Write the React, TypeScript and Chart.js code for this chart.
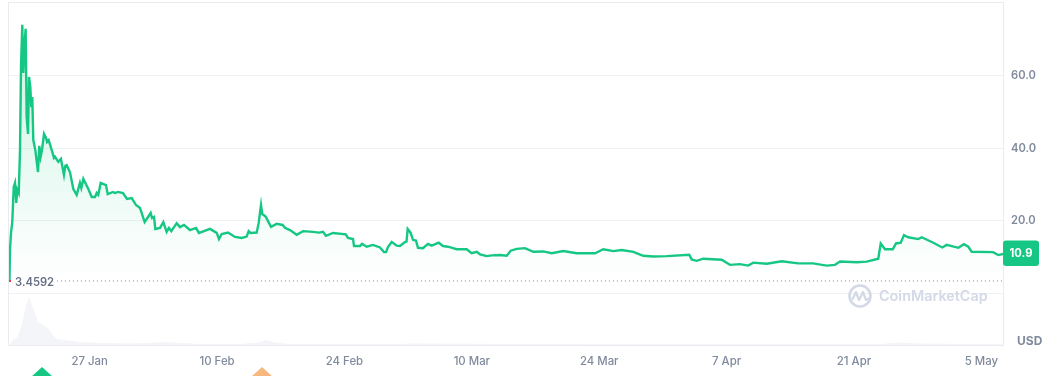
import React, { useEffect, useRef } from "react";
import { Chart, registerables } from "chart.js";

Chart.register(...registerables);

// Days counted from 18 Jan
const priceDays = [0.18,0.24,0.35,0.49,0.65,0.79,0.93,1.04,1.2,1.34,1.45,1.59,1.7,1.85,1.96,2.07,2.22,2.33,2.47,2.58,2.69,2.8,3.02,3.32,3.46,3.61,3.76,3.98,4.2,4.31,4.49,4.82,5.07,5.18,5.55,5.84,6.17,6.32,6.47,6.83,7.2,7.57,7.93,8.08,8.3,8.85,9.22,9.58,9.77,9.94,10.21,10.79,10.98,11.56,11.78,12.11,12.66,13.1,13.62,14.09,14.53,15.04,15.41,15.7,15.85,16.07,16.21,16.73,17.09,17.46,17.71,17.97,18.56,18.92,19.36,20.02,20.68,21.01,21.12,22.22,22.96,23.21,23.51,24.2,24.97,25.7,26.25,26.47,26.67,27.35,27.57,27.83,27.97,28.34,28.93,29.55,30.21,30.46,31.01,31.75,32.44,33.54,34.2,34.64,34.97,35.74,37.14,37.39,37.94,38.05,38.71,38.93,39.44,40.14,40.9,41.35,41.57,41.78,42.19,42.74,43.1,43.65,43.82,43.95,44.28,44.53,44.86,45.08,45.63,46.18,46.59,47.36,47.83,48.38,48.93,49.34,50.43,50.98,51.53,51.9,52.63,53.2,54.1,54.83,55.27,55.93,56.84,57.76,58.85,59.78,61.05,62.52,64.54,65.45,66.55,67.47,68.75,69.84,70.94,72.42,74.9,75.16,75.71,76.44,78.46,79.37,80.47,81.38,81.93,83.41,85.06,86.88,88.5,90.0,90.91,91.47,93.3,94.4,95.67,95.94,96.41,97.26,97.62,98.14,98.5,98.97,100.07,100.45,101.72,102.71,103.19,104.47,105.09,105.57,105.94,108.28,108.86,109.38];
const prices = [3.46,12.0,16.7,19.7,29.4,30.5,25.0,28.6,27.7,39.6,62.5,74.1,60.8,69.1,73.0,48.7,44.0,59.7,57.0,51.4,54.2,42.3,39.6,33.5,40.7,37.7,39.6,44.0,42.9,41.8,42.3,39.6,37.4,37.7,36.3,37.1,32.7,35.2,35.4,33.5,28.8,27.2,30.5,29.1,31.6,28.8,26.6,26.6,27.7,27.2,30.5,29.9,27.4,28.0,27.7,28.0,27.7,26.1,26.3,24.4,23.6,19.7,21.1,22.2,20.8,21.1,17.8,18.1,19.7,17.0,18.1,17.2,19.4,18.3,18.9,17.5,18.1,16.7,16.8,17.8,16.7,15.0,16.4,16.8,15.6,15.3,15.7,17.2,16.7,16.8,19.4,24.4,21.9,21.2,18.4,19.2,18.9,18.1,17.5,16.2,17.2,17.0,16.8,17.0,15.9,16.7,16.3,15.3,15.0,13.1,13.1,13.7,12.9,13.4,12.7,11.4,11.4,12.8,14.2,13.2,13.1,14.2,14.3,17.8,16.7,14.8,14.6,12.6,12.5,13.7,13.2,14.0,13.1,12.9,12.5,12.2,12.2,11.1,11.5,10.8,10.3,10.5,10.6,10.4,11.8,12.3,12.5,11.5,11.6,11.1,11.7,11.1,11.1,12.2,11.7,12.0,11.5,10.4,10.2,10.3,10.7,9.4,9.0,9.6,9.3,7.9,8.1,7.7,8.5,8.2,8.9,8.3,8.3,7.7,7.9,8.8,8.6,8.8,9.6,13.8,12.2,12.2,13.8,14.0,16.1,15.5,15.0,15.5,14.0,12.7,13.4,12.6,13.6,12.9,11.5,11.4,10.6,10.9];

const volumeDays = [0.24,0.57,1.0,1.56,2.0,2.33,2.77,3.32,3.87,4.42,4.97,5.4,6.28,7.93,10.13,13.43,15.63,17.27,21.12,25.5,27.5,28.3,29.4,31,43.1,44.2,65,95.9,97,98.6,99.7,109.38];
const volumes = [0,12,14,41,82,98,76,47,41,35,20,12,10,6,4,3,4,6,2,2,5,10,5,2,2,3,1.5,1.5,4,5,3,1.5];

const lowDays = [5.4, 109.38];
const lowPrice = 3.4592;
const lastPrice = 10.9;

const axisDayMin = 0.13;
const axisDayMax = 109.38;

const tickDays = [9, 23, 37, 51, 65, 79, 93, 107];
const tickLabels = ["27 Jan", "10 Feb", "24 Feb", "10 Mar", "24 Mar", "7 Apr", "21 Apr", "5 May"];
const priceTicks = [0, 20, 40, 60];
const markerDays = [3.76, 27.94];
const markerColors = ["#16c784", "#f6b87e"];

const GREEN = "#16c784";
const TICK = "#808a9d";
const FONT = "Inter, 'Noto Sans', sans-serif";

const decorations = {
  id: "decorations",
  afterDatasetsDraw(chart: any) {
    const { ctx, chartArea: a, scales } = chart;
    const x = scales.x;
    const y = scales.y;
    ctx.save();
    // frame
    ctx.strokeStyle = "#e8ebef";
    ctx.lineWidth = 1;
    ctx.strokeRect(a.left - 0.5, a.top - 0.5, a.right - a.left + 0.5 + 0.5, a.bottom - a.top + 0.5 + 0.5);

    // low label
    const lowY = y.getPixelForValue(lowPrice);
    ctx.fillStyle = "#fff";
    ctx.fillRect(a.left + 3, lowY - 8, 45, 18);
    ctx.fillStyle = "#687284";
    ctx.font = `600 11.2px ${FONT}`;
    ctx.textAlign = "left";
    ctx.textBaseline = "middle";
    ctx.fillText(lowPrice.toFixed(4), a.left + 6, lowY + 1.5);

    // low start tick
    ctx.fillStyle = "#ea3943";
    ctx.fillRect(a.left, lowY - 1, 2, 2);

    // last price tag
    const tagY = y.getPixelForValue(lastPrice);
    ctx.fillStyle = GREEN;
    ctx.beginPath();
    ctx.roundRect(a.right, tagY - 13.5, 36, 25.5, 3);
    ctx.fill();
    ctx.fillStyle = "#fff";
    ctx.font = `700 11.2px ${FONT}`;
    ctx.textAlign = "center";
    ctx.fillText(lastPrice.toFixed(1), a.right + 18, tagY);

    // USD
    ctx.fillStyle = "#808a9d";
    ctx.font = `700 12px ${FONT}`;
    ctx.textAlign = "left";
    ctx.fillText("USD", 1017, 341.5);

    // watermark
    const cx = 860;
    const cy = 296;
    ctx.strokeStyle = "#d3d9e6";
    ctx.lineWidth = 2.6;
    ctx.beginPath();
    ctx.arc(cx, cy, 10.5, 0, Math.PI * 2);
    ctx.stroke();
    ctx.lineWidth = 2.2;
    ctx.lineJoin = "round";
    ctx.beginPath();
    ctx.moveTo(cx - 8, cy + 4);
    ctx.lineTo(cx - 4, cy - 4);
    ctx.lineTo(cx - 1, cy + 4);
    ctx.lineTo(cx + 3, cy - 4);
    ctx.lineTo(cx + 6, cy + 4);
    ctx.lineTo(cx + 10, cy + 2);
    ctx.stroke();
    ctx.fillStyle = "#d3d9e6";
    ctx.font = `600 14.4px ${FONT}`;
    ctx.textAlign = "left";
    ctx.fillText("CoinMarketCap", 879, 297);

    // event markers cut off by the canvas edge
    markerDays.forEach((d, i) => {
      const mx = x.getPixelForValue(d);
      ctx.fillStyle = markerColors[i];
      ctx.beginPath();
      ctx.moveTo(mx, 367);
      ctx.lineTo(mx + 11, 377);
      ctx.lineTo(mx - 11, 377);
      ctx.closePath();
      ctx.fill();
    });
    ctx.restore();
  },
};

export default function App() {
  const ref = useRef<HTMLCanvasElement | null>(null);

  useEffect(() => {
    if (!ref.current) return;
    const chart = new Chart(ref.current, {
      type: "line",
      plugins: [decorations],
      data: {
        datasets: [
          {
            label: "Price",
            data: priceDays.map((d, i) => ({ x: d, y: prices[i] })),
            yAxisID: "y",
            borderColor: GREEN,
            borderWidth: 2.4,
            pointRadius: 0,
            tension: 0,
            fill: { value: lowPrice },
            backgroundColor: (c: any) => {
              const a = c.chart.chartArea;
              if (!a) return "rgba(22,199,132,0.1)";
              const g = c.chart.ctx.createLinearGradient(0, 25, 0, 281);
              g.addColorStop(0, "rgba(22,199,132,0.22)");
              g.addColorStop(1, "rgba(22,199,132,0)");
              return g;
            },
            order: 1,
          },
          {
            label: "Low",
            data: lowDays.map((d) => ({ x: d, y: lowPrice })),
            yAxisID: "y",
            borderColor: "#808a9d",
            borderWidth: 1,
            borderDash: [1, 3],
            pointRadius: 0,
            fill: false,
            order: 2,
          },
          {
            label: "Volume",
            data: volumeDays.map((d, i) => ({ x: d, y: volumes[i] })),
            yAxisID: "yVol",
            borderWidth: 0,
            pointRadius: 0,
            tension: 0,
            fill: "origin",
            backgroundColor: "#f3f5f8",
            order: 3,
          },
        ],
      },
      options: {
        responsive: false,
        animation: false,
        parsing: { xAxisKey: "x", yAxisKey: "y" } as any,
        layout: { autoPadding: false, padding: { left: 9, top: 3, right: 0, bottom: 0 } },
        plugins: { legend: { display: false }, tooltip: { enabled: false } },
        scales: {
          x: {
            type: "linear",
            min: axisDayMin,
            max: axisDayMax,
            border: { display: false },
            grid: { display: false },
            afterFit: (s: any) => {
              s.height = 31;
              s.paddingLeft = 0;
              s.paddingRight = 0;
              s.paddingTop = 0;
              s.paddingBottom = 0;
            },
            afterBuildTicks: (s: any) => {
              s.ticks = tickDays.map((v) => ({ value: v }));
            },
            ticks: {
              autoSkip: false,
              maxRotation: 0,
              padding: 2,
              color: TICK,
              font: { family: FONT, size: 11.4, weight: 500 },
              callback: (v: any) => tickLabels[tickDays.indexOf(Number(v))] ?? "",
            },
          },
          y: {
            position: "right",
            min: -14.2,
            max: 80.1,
            border: { display: false },
            grid: { color: "#eff2f5", lineWidth: 1, drawTicks: false },
            afterFit: (s: any) => {
              s.width = 57;
              s.paddingLeft = 0;
              s.paddingRight = 0;
              s.paddingTop = 0;
              s.paddingBottom = 0;
            },
            afterBuildTicks: (s: any) => {
              s.ticks = priceTicks.map((v) => ({ value: v }));
            },
            ticks: {
              padding: 8,
              color: TICK,
              font: { family: FONT, size: 11.2, weight: 600 },
              callback: (v: any) => (Number(v) === 0 ? "" : Number(v).toFixed(1)),
            },
          },
          yVol: {
            display: false,
            min: 0,
            max: 700,
          },
        },
      },
    });
    return () => chart.destroy();
  }, []);

  return (
    <div style={{ position: "fixed", left: 0, top: 0, width: 1060, height: 376, background: "#fff" }}>
      <canvas ref={ref} width={1060} height={376} style={{ display: "block", width: 1060, height: 376 }} />
    </div>
  );
}
